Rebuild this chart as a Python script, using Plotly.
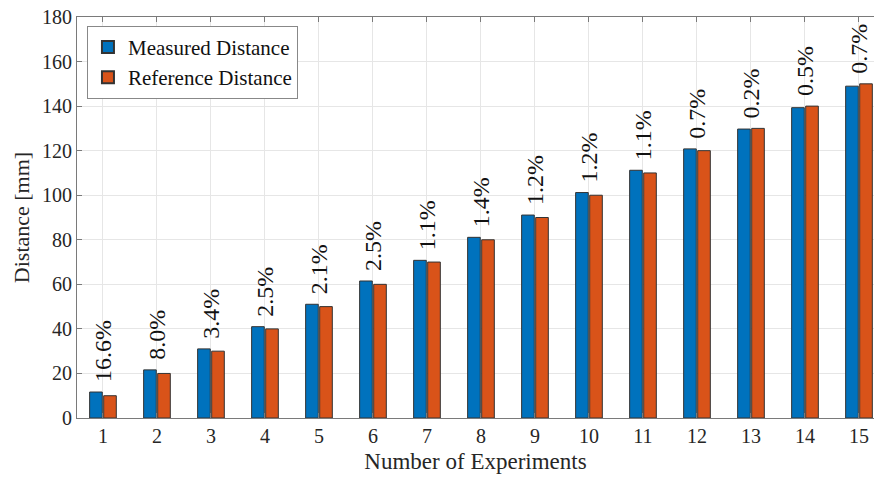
import plotly.graph_objects as go

experiments = list(range(1, 16))
measured = [11.66, 21.6, 31.02, 41.0, 51.05, 61.5, 70.77, 81.1, 91.1, 101.2, 111.2, 120.8, 129.7, 139.3, 148.95]
reference = [10, 20, 30, 40, 50, 60, 70, 80, 90, 100, 110, 120, 130, 140, 150]
error_labels = ["16.6%", "8.0%", "3.4%", "2.5%", "2.1%", "2.5%", "1.1%", "1.4%", "1.2%", "1.2%",
                "1.1%", "0.7%", "0.2%", "0.5%", "0.7%"]
y_ticks = [0, 20, 40, 60, 80, 100, 120, 140, 160, 180]

FONT = "Liberation Serif"
AX = "#7a7a7a"

fig = go.Figure()
fig.add_trace(go.Bar(x=experiments, y=measured, name="Measured Distance",
                     marker=dict(color="#0072BD", line=dict(color="#333333", width=1))))
fig.add_trace(go.Bar(x=experiments, y=reference, name="Reference Distance",
                     marker=dict(color="#D95319", line=dict(color="#333333", width=1))))

for x, m, r, t in zip(experiments, measured, reference, error_labels):
    fig.add_annotation(x=x, y=max(m, r), text=t, textangle=-90, showarrow=False,
                       xanchor="center", yanchor="bottom", yshift=8,
                       font=dict(family=FONT, size=24, color="#111111"))

fig.update_layout(
    width=874, height=477,
    margin=dict(l=77, r=0, t=17, b=59),
    paper_bgcolor="white", plot_bgcolor="white",
    barmode="group", bargap=0.48, bargroupgap=0.1,
    font=dict(family=FONT, size=20, color="#262626"),
    showlegend=True,
    legend=dict(x=0.0125, y=0.978, xanchor="left", yanchor="top",
                bgcolor="white", bordercolor="#888888", borderwidth=1,
                font=dict(family=FONT, size=21, color="#111111"),
                tracegroupgap=0, itemsizing="constant"),
    xaxis=dict(range=[0.519, 15.278], tickmode="array", tickvals=experiments,
               ticktext=[str(e) for e in experiments],
               title=dict(text="Number of Experiments", font=dict(size=23, family=FONT, color="#262626"), standoff=6),
               showline=True, linecolor=AX, linewidth=1, mirror="ticks",
               ticks="inside", ticklen=5, tickcolor=AX,
               showgrid=True, gridcolor="#e6e6e6", gridwidth=1, zeroline=False,
               tickfont=dict(size=20, family=FONT, color="#262626")),
    yaxis=dict(range=[0, 180], tickmode="array", tickvals=y_ticks,
               title=dict(text="Distance [mm]", font=dict(size=22, family=FONT, color="#262626"), standoff=6),
               showline=True, linecolor=AX, linewidth=1, mirror=False,
               ticks="inside", ticklen=5, tickcolor=AX,
               showgrid=True, gridcolor="#e6e6e6", gridwidth=1, zeroline=False,
               tickfont=dict(size=20, family=FONT, color="#262626")),
)

fig.write_html("out.html")
